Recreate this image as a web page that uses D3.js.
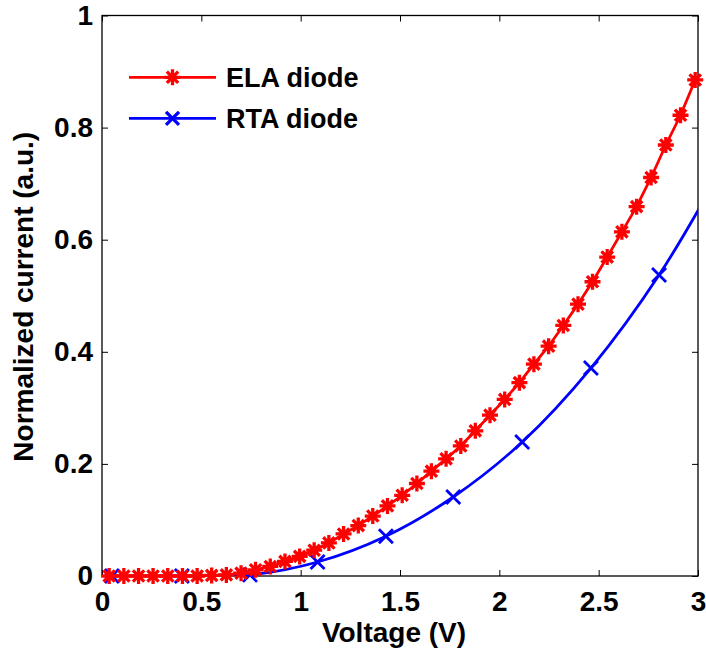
<!DOCTYPE html>
<html>
<head>
<meta charset="utf-8">
<script src="https://cdn.jsdelivr.net/npm/d3@7"></script>
<style>
  body { margin: 0; background: #fff; }
  text { font-family: "Liberation Sans", Arial, sans-serif; font-weight: bold; }
</style>
</head>
<body>
<div id="chart"></div>
<script>
  //=========================================================================
  // Data
  //=========================================================================

  // ELA diode (red, * markers)
  var elaVoltage = [0.036, 0.110, 0.184, 0.257, 0.331, 0.405, 0.479, 0.552, 0.626, 0.700,
                    0.773, 0.847, 0.921, 0.995, 1.068, 1.142, 1.216, 1.290, 1.363, 1.437,
                    1.511, 1.585, 1.658, 1.732, 1.806, 1.879, 1.953, 2.027, 2.101, 2.174,
                    2.248, 2.322, 2.396, 2.469, 2.543, 2.617, 2.691, 2.764, 2.838, 2.912, 2.986];
  var elaCurrent = [0, 0, 0, 0, 0, 0, 0, 0.001, 0.002, 0.005,
                    0.011, 0.017, 0.026, 0.035, 0.046, 0.059, 0.075, 0.090, 0.107, 0.125,
                    0.144, 0.165, 0.187, 0.209, 0.232, 0.259, 0.287, 0.315, 0.345, 0.378,
                    0.410, 0.447, 0.485, 0.525, 0.569, 0.614, 0.659, 0.711, 0.769, 0.822, 0.885];

  // RTA diode (blue, x markers); last point lies past the axis limit
  var rtaVoltage = [0.050, 0.402, 0.745, 1.085, 1.429, 1.768, 2.115, 2.461, 2.804, 3.148];
  var rtaCurrent = [0, 0, 0.002, 0.025, 0.071, 0.141, 0.239, 0.371, 0.537, 0.745];

  var xTicks = [0, 0.5, 1, 1.5, 2, 2.5, 3];
  var yTicks = [0, 0.2, 0.4, 0.6, 0.8, 1];

  var legendLabels = ["ELA diode", "RTA diode"];

  //=========================================================================
  // Dimensions
  //=========================================================================

  var width = 706,
      height = 655;

  var margin = { top: 15.5, right: 8, bottom: 79, left: 102 },
      iwidth = width - margin.left - margin.right,
      iheight = height - margin.top - margin.bottom;

  var svg = d3.select("#chart")
    .append("svg")
    .attr("width", width)
    .attr("height", height);

  var gDrawing = svg.append("g")
    .attr("transform", `translate(${margin.left}, ${margin.top})`);

  //=========================================================================
  // Scales
  //=========================================================================

  var x = d3.scaleLinear().domain([0, 3]).range([0, iwidth]);
  var y = d3.scaleLinear().domain([0, 1]).range([iheight, 0]);

  //=========================================================================
  // Axes (MATLAB style box, inward ticks)
  //=========================================================================

  var tickLen = 6;
  var fmt = d3.format("~g");

  function style_axis(g){
    g.select(".domain").remove();
    g.selectAll(".tick line").attr("stroke", "#000").attr("stroke-width", 1);
    g.selectAll("text")
      .attr("fill", "#000")
      .style("font-size", "28px");
  }

  gDrawing.append("g")
    .attr("transform", `translate(0,${iheight})`)
    .call(d3.axisBottom(x).tickValues(xTicks).tickFormat(fmt)
          .tickSize(-tickLen).tickSizeOuter(0).tickPadding(15))
    .call(style_axis);

  gDrawing.append("g")
    .call(d3.axisLeft(y).tickValues(yTicks).tickFormat(fmt)
          .tickSize(-tickLen).tickSizeOuter(0).tickPadding(9))
    .call(style_axis);

  gDrawing.append("g")
    .call(d3.axisTop(x).tickValues(xTicks).tickFormat("")
          .tickSize(-tickLen).tickSizeOuter(0))
    .call(style_axis);

  gDrawing.append("g")
    .attr("transform", `translate(${iwidth},0)`)
    .call(d3.axisRight(y).tickValues(yTicks).tickFormat("")
          .tickSize(-tickLen).tickSizeOuter(0))
    .call(style_axis);

  gDrawing.append("rect")
    .attr("width", iwidth)
    .attr("height", iheight)
    .attr("fill", "none")
    .attr("stroke", "#000")
    .attr("stroke-width", 1.3);

  // Axis titles
  svg.append("text")
    .attr("x", margin.left + iwidth / 2 - 6)
    .attr("y", 642)
    .attr("text-anchor", "middle")
    .style("font-size", "28px")
    .text("Voltage (V)");

  svg.append("text")
    .attr("transform", `translate(33,${margin.top + iheight / 2 + 1})rotate(-90)`)
    .attr("text-anchor", "middle")
    .style("font-size", "28px")
    .text("Normalized current (a.u.)");

  //=========================================================================
  // Markers
  //=========================================================================

  function star_path(r){
    var d = r * Math.SQRT1_2;
    return `M${-r},0L${r},0M0,${-r}L0,${r}M${-d},${-d}L${d},${d}M${-d},${d}L${d},${-d}`;
  }

  function cross_path(r){
    return `M${-r},${-r}L${r},${r}M${-r},${r}L${r},${-r}`;
  }

  //=========================================================================
  // Lines
  //=========================================================================

  var ela = elaVoltage.map((v, i) => ({ v: v, c: elaCurrent[i] }));
  var rta = rtaVoltage.map((v, i) => ({ v: v, c: rtaCurrent[i] }));

  gDrawing.append("clipPath")
    .attr("id", "clip")
    .append("rect")
    .attr("width", iwidth)
    .attr("height", iheight + 10)
    .attr("y", -10);

  gDrawing.append("path")
    .datum(rta)
    .attr("clip-path", "url(#clip)")
    .attr("d", d3.line().x(d => x(d.v)).y(d => y(d.c)).curve(d3.curveCatmullRom.alpha(0.5)))
    .attr("fill", "none")
    .attr("stroke", "#0000ff")
    .attr("stroke-width", 2.8);

  gDrawing.selectAll(".rta-marker")
    .data(rta.filter(d => d.v <= 3))
    .enter()
    .append("path")
    .attr("class", "rta-marker")
    .attr("transform", d => `translate(${x(d.v)},${y(d.c)})`)
    .attr("d", cross_path(7))
    .attr("fill", "none")
    .attr("stroke", "#0000ff")
    .attr("stroke-width", 2.8);

  gDrawing.append("path")
    .datum(ela)
    .attr("d", d3.line().x(d => x(d.v)).y(d => y(d.c)))
    .attr("fill", "none")
    .attr("stroke", "#ff0000")
    .attr("stroke-width", 2.8);

  gDrawing.selectAll(".ela-marker")
    .data(ela)
    .enter()
    .append("path")
    .attr("class", "ela-marker")
    .attr("transform", d => `translate(${x(d.v)},${y(d.c)})`)
    .attr("d", star_path(8))
    .attr("fill", "none")
    .attr("stroke", "#ff0000")
    .attr("stroke-width", 3.3);

  //=========================================================================
  // Legend
  //=========================================================================

  var legend_data = [
    { label: legendLabels[0], color: "#ff0000", marker: star_path(8), y: 77.3 },
    { label: legendLabels[1], color: "#0000ff", marker: cross_path(6.5), y: 118.3 }
  ];

  var legend = svg.selectAll(".legend")
    .data(legend_data)
    .enter()
    .append("g")
    .attr("class", "legend");

  legend.append("line")
    .attr("x1", 129).attr("x2", 216)
    .attr("y1", d => d.y).attr("y2", d => d.y)
    .attr("stroke", d => d.color)
    .attr("stroke-width", 2.8);

  legend.append("path")
    .attr("transform", d => `translate(172.5,${d.y})`)
    .attr("d", d => d.marker)
    .attr("fill", "none")
    .attr("stroke", d => d.color)
    .attr("stroke-width", 3.3);

  legend.append("text")
    .attr("x", 226)
    .attr("y", d => d.y + 9.5)
    .style("font-size", "27px")
    .text(d => d.label);
</script>
</body>
</html>
